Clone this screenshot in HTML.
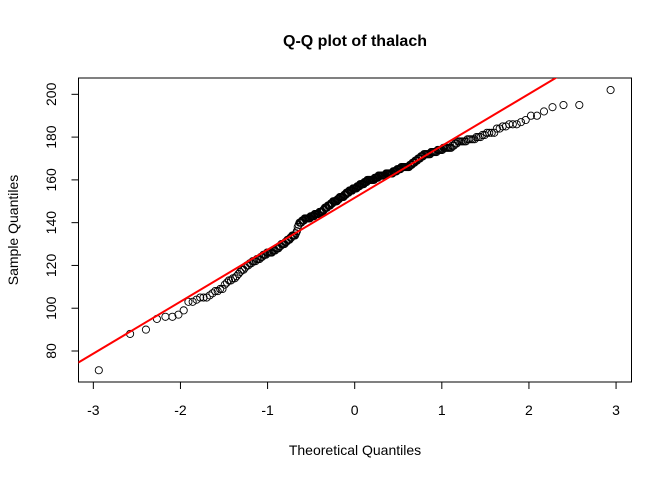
<!DOCTYPE html>
<html><head><meta charset="utf-8"><style>
body{margin:0;background:#fff;}
svg{display:block;font-family:"Liberation Sans",Arial,sans-serif;}
</style></head><body>
<svg id="chart" width="672" height="480" xmlns="http://www.w3.org/2000/svg">
<rect width="672" height="480" fill="#fff"/>
<text x="355" y="46" text-anchor="middle" font-size="16" font-weight="bold">Q-Q plot of thalach</text>
<text x="355" y="455" text-anchor="middle" font-size="14">Theoretical Quantiles</text>
<text transform="translate(18,230) rotate(-90)" text-anchor="middle" font-size="14">Sample Quantiles</text>
<g id="grid"></g>
<g id="pts"></g>
<rect x="78.5" y="78" width="553" height="304" fill="none" stroke="#000"/>
</svg>
<script>
const sampleValues = [71,88,90,95,96,96,97,99,
103,103,104,105,105,105,106,107,108,108,109,109,
111,112,113,113,114,114,115,116,117,118,118,119,120,120,121,
121,122,122,122,123,123,123,124,124,125,125,125,126,
126,126,126,126,127,127,127,128,128,128,129,129,130,130,130,130,
131,131,132,132,132,133,133,134,134,
134,134,135,136,138,139,140,140,140,141,141,141,142,142,142,
142,142,142,142,143,143,143,143,143,144,144,144,144,144,144,145,
145,145,145,145,146,146,147,147,147,147,148,148,148,148,149,149,149,150,150,150,150,150,150,151,
151,151,152,152,152,152,152,152,153,153,153,154,154,154,154,155,155,155,155,155,156,156,156,156,
156,156,157,157,157,157,158,158,158,158,158,158,159,159,159,159,160,160,160,160,160,160,160,
160,160,160,161,161,161,161,161,162,162,162,162,162,162,162,162,162,162,163,163,163,163,163,
163,163,163,163,164,164,164,164,164,165,165,165,165,165,166,166,166,166,166,166,166,166,
166,166,167,167,167,168,168,168,169,169,169,170,170,170,171,171,171,172,172,
172,172,172,172,172,173,173,173,173,173,173,174,174,174,174,174,
175,175,175,175,175,175,175,176,176,177,177,178,178,
178,178,178,178,179,179,179,179,179,180,180,180,181,181,182,
182,182,182,184,184,185,185,186,186,
186,187,188,190,
190,192,194,195,195,202];
const xTicks = [-3,-2,-1,0,1,2,3];
const yTicks = [80,100,120,140,160,180,200];

const L=78.5,R=631.5,T=78,B=382;
const xs = v => 354.7 + v*87.12;
const ys = v => 351 - (v-80)*2.139;
const NS="http://www.w3.org/2000/svg";
function qnorm(p){
 const a=[-39.69683028665376,220.9460984245205,-275.9285104469687,138.357751867269,-30.66479806614716,2.506628277459239];
 const b=[-54.47609879822406,161.5858368580409,-155.6989798598866,66.80131188771972,-13.28068155288572];
 const c=[-0.007784894002430293,-0.3223964580411365,-2.400758277161838,-2.549732539343734,4.374664141464968,2.938163982698783];
 const d=[0.007784695709041462,0.3224671290700398,2.445134137142996,3.754408661907416];
 let q,r;
 if(p<0.02425){q=Math.sqrt(-2*Math.log(p));return (((((c[0]*q+c[1])*q+c[2])*q+c[3])*q+c[4])*q+c[5])/((((d[0]*q+d[1])*q+d[2])*q+d[3])*q+1);}
 if(p>1-0.02425){q=Math.sqrt(-2*Math.log(1-p));return -(((((c[0]*q+c[1])*q+c[2])*q+c[3])*q+c[4])*q+c[5])/((((d[0]*q+d[1])*q+d[2])*q+d[3])*q+1);}
 q=p-0.5;r=q*q;return (((((a[0]*r+a[1])*r+a[2])*r+a[3])*r+a[4])*r+a[5])*q/(((((b[0]*r+b[1])*r+b[2])*r+b[3])*r+b[4])*r+1);
}
const svg=document.getElementById('chart');
const g=document.getElementById('grid');
function mk(tag,attrs,parent){const e=document.createElementNS(NS,tag);for(const k in attrs)e.setAttribute(k,attrs[k]);parent.appendChild(e);return e;}
xTicks.forEach(t=>{
 const l=mk('line',{x1:xs(t),x2:xs(t),y1:B,y2:B+7,stroke:'#000'},g);
 
 
 const tx=mk('text',{x:xs(t),y:415,'text-anchor':'middle','font-size':14},g);
 tx.textContent=t;
 
 
});
yTicks.forEach(t=>{
 const l=mk('line',{x1:L-7,x2:L,y1:ys(t),y2:ys(t),stroke:'#000'},g);
 
 
 const tx=mk('text',{transform:`translate(56,${ys(t)}) rotate(-90)`,'text-anchor':'middle','font-size':14},g);
 tx.textContent=t;
 
 
});
const pts=document.getElementById('pts');
const n=sampleValues.length;
const sorted=[...sampleValues].sort((a,b)=>a-b);
sorted.forEach((v,i)=>{
 const z=qnorm((i+0.5)/n);
 const c=mk('circle',{cx:xs(z),cy:ys(v),r:3.6,fill:'none',stroke:'#000','stroke-width':0.9},pts);
 
 
});
function quant(p){const h=(n-1)*p,lo=Math.floor(h);return sorted[lo]+(h-lo)*(sorted[Math.min(lo+1,n-1)]-sorted[lo]);}
const y1=quant(0.25),y2=quant(0.75),x1=qnorm(0.25),x2=qnorm(0.75);
const slope=(y2-y1)/(x2-x1),inter=y1-slope*x1;
mk('clipPath',{id:'clip'},svg);
mk('rect',{x:L,y:T,width:R-L,height:B-T},document.getElementById('clip'));
const zl=-3.5,zr=3.5;
const ln=mk('line',{x1:xs(zl),y1:ys(inter+slope*zl),x2:xs(zr),y2:ys(inter+slope*zr),stroke:'#ff0000','stroke-width':2,'clip-path':'url(#clip)'},svg);


</script>
</body></html>
